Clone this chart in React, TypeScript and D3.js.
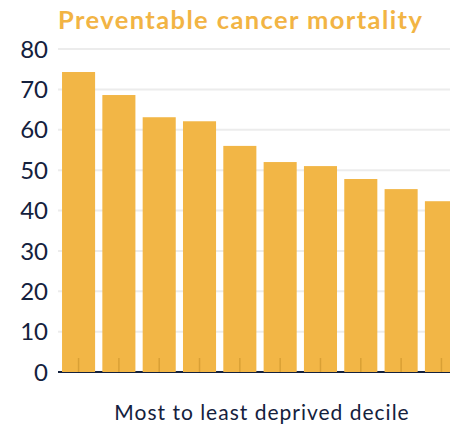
import React from "react";
import * as d3 from "d3";

const deciles = ["1", "2", "3", "4", "5", "6", "7", "8", "9", "10"];
const mortality = [74.3, 68.6, 63.1, 62.1, 56.0, 52.0, 51.0, 47.8, 45.3, 42.3];
const yTicks = [0, 10, 20, 30, 40, 50, 60, 70, 80];
const title = "Preventable cancer mortality";
const xLabel = "Most to least deprived decile";

export default function App() {
  const W = 450, H = 427;
  const left = 58, right = 462, top = 49, bottom = 372;
  const x = d3.scaleBand<string>().domain(deciles).range([left, right]).paddingInner(0.18).paddingOuter(0.1);
  const y = d3.scaleLinear().domain([0, 80]).range([bottom, top]);
  const font = "Lato, 'Open Sans', sans-serif";
  const navy = "#14213d";
  return (
    <svg width={W} height={H} style={{ position: "absolute", left: 0, top: 0 }}>
      <text x={left} y={29} fill="#F2B444" fontFamily={font} fontWeight={700} fontSize={25.5} letterSpacing={1.4}>{title}</text>
      {yTicks.map(t => (
        <g key={t}>
          <line x1={left} x2={W} y1={y(t)} y2={y(t)} stroke="#ececec" strokeWidth={2} />
          <text x={48} y={y(t)} dy="0.36em" textAnchor="end" fill={navy} fontFamily={font} fontSize={24}>{t}</text>
        </g>
      ))}
      <line x1={left} x2={W} y1={bottom} y2={bottom} stroke={navy} strokeWidth={2} />
      {deciles.map((d, i) => (
        <rect key={d} x={x(d)} y={y(mortality[i])} width={x.bandwidth()} height={bottom - y(mortality[i])} fill="#F2B646" />
      ))}
      {deciles.map(d => {
        const cx = (x(d) as number) + x.bandwidth() / 2;
        return <line key={"t" + d} x1={cx} x2={cx} y1={bottom - 14} y2={bottom} stroke="#d9a035" strokeWidth={1.5} />;
      })}
      <text x={262} y={420} textAnchor="middle" fill={navy} fontFamily={font} fontSize={21} letterSpacing={1}>{xLabel}</text>
    </svg>
  );
}
